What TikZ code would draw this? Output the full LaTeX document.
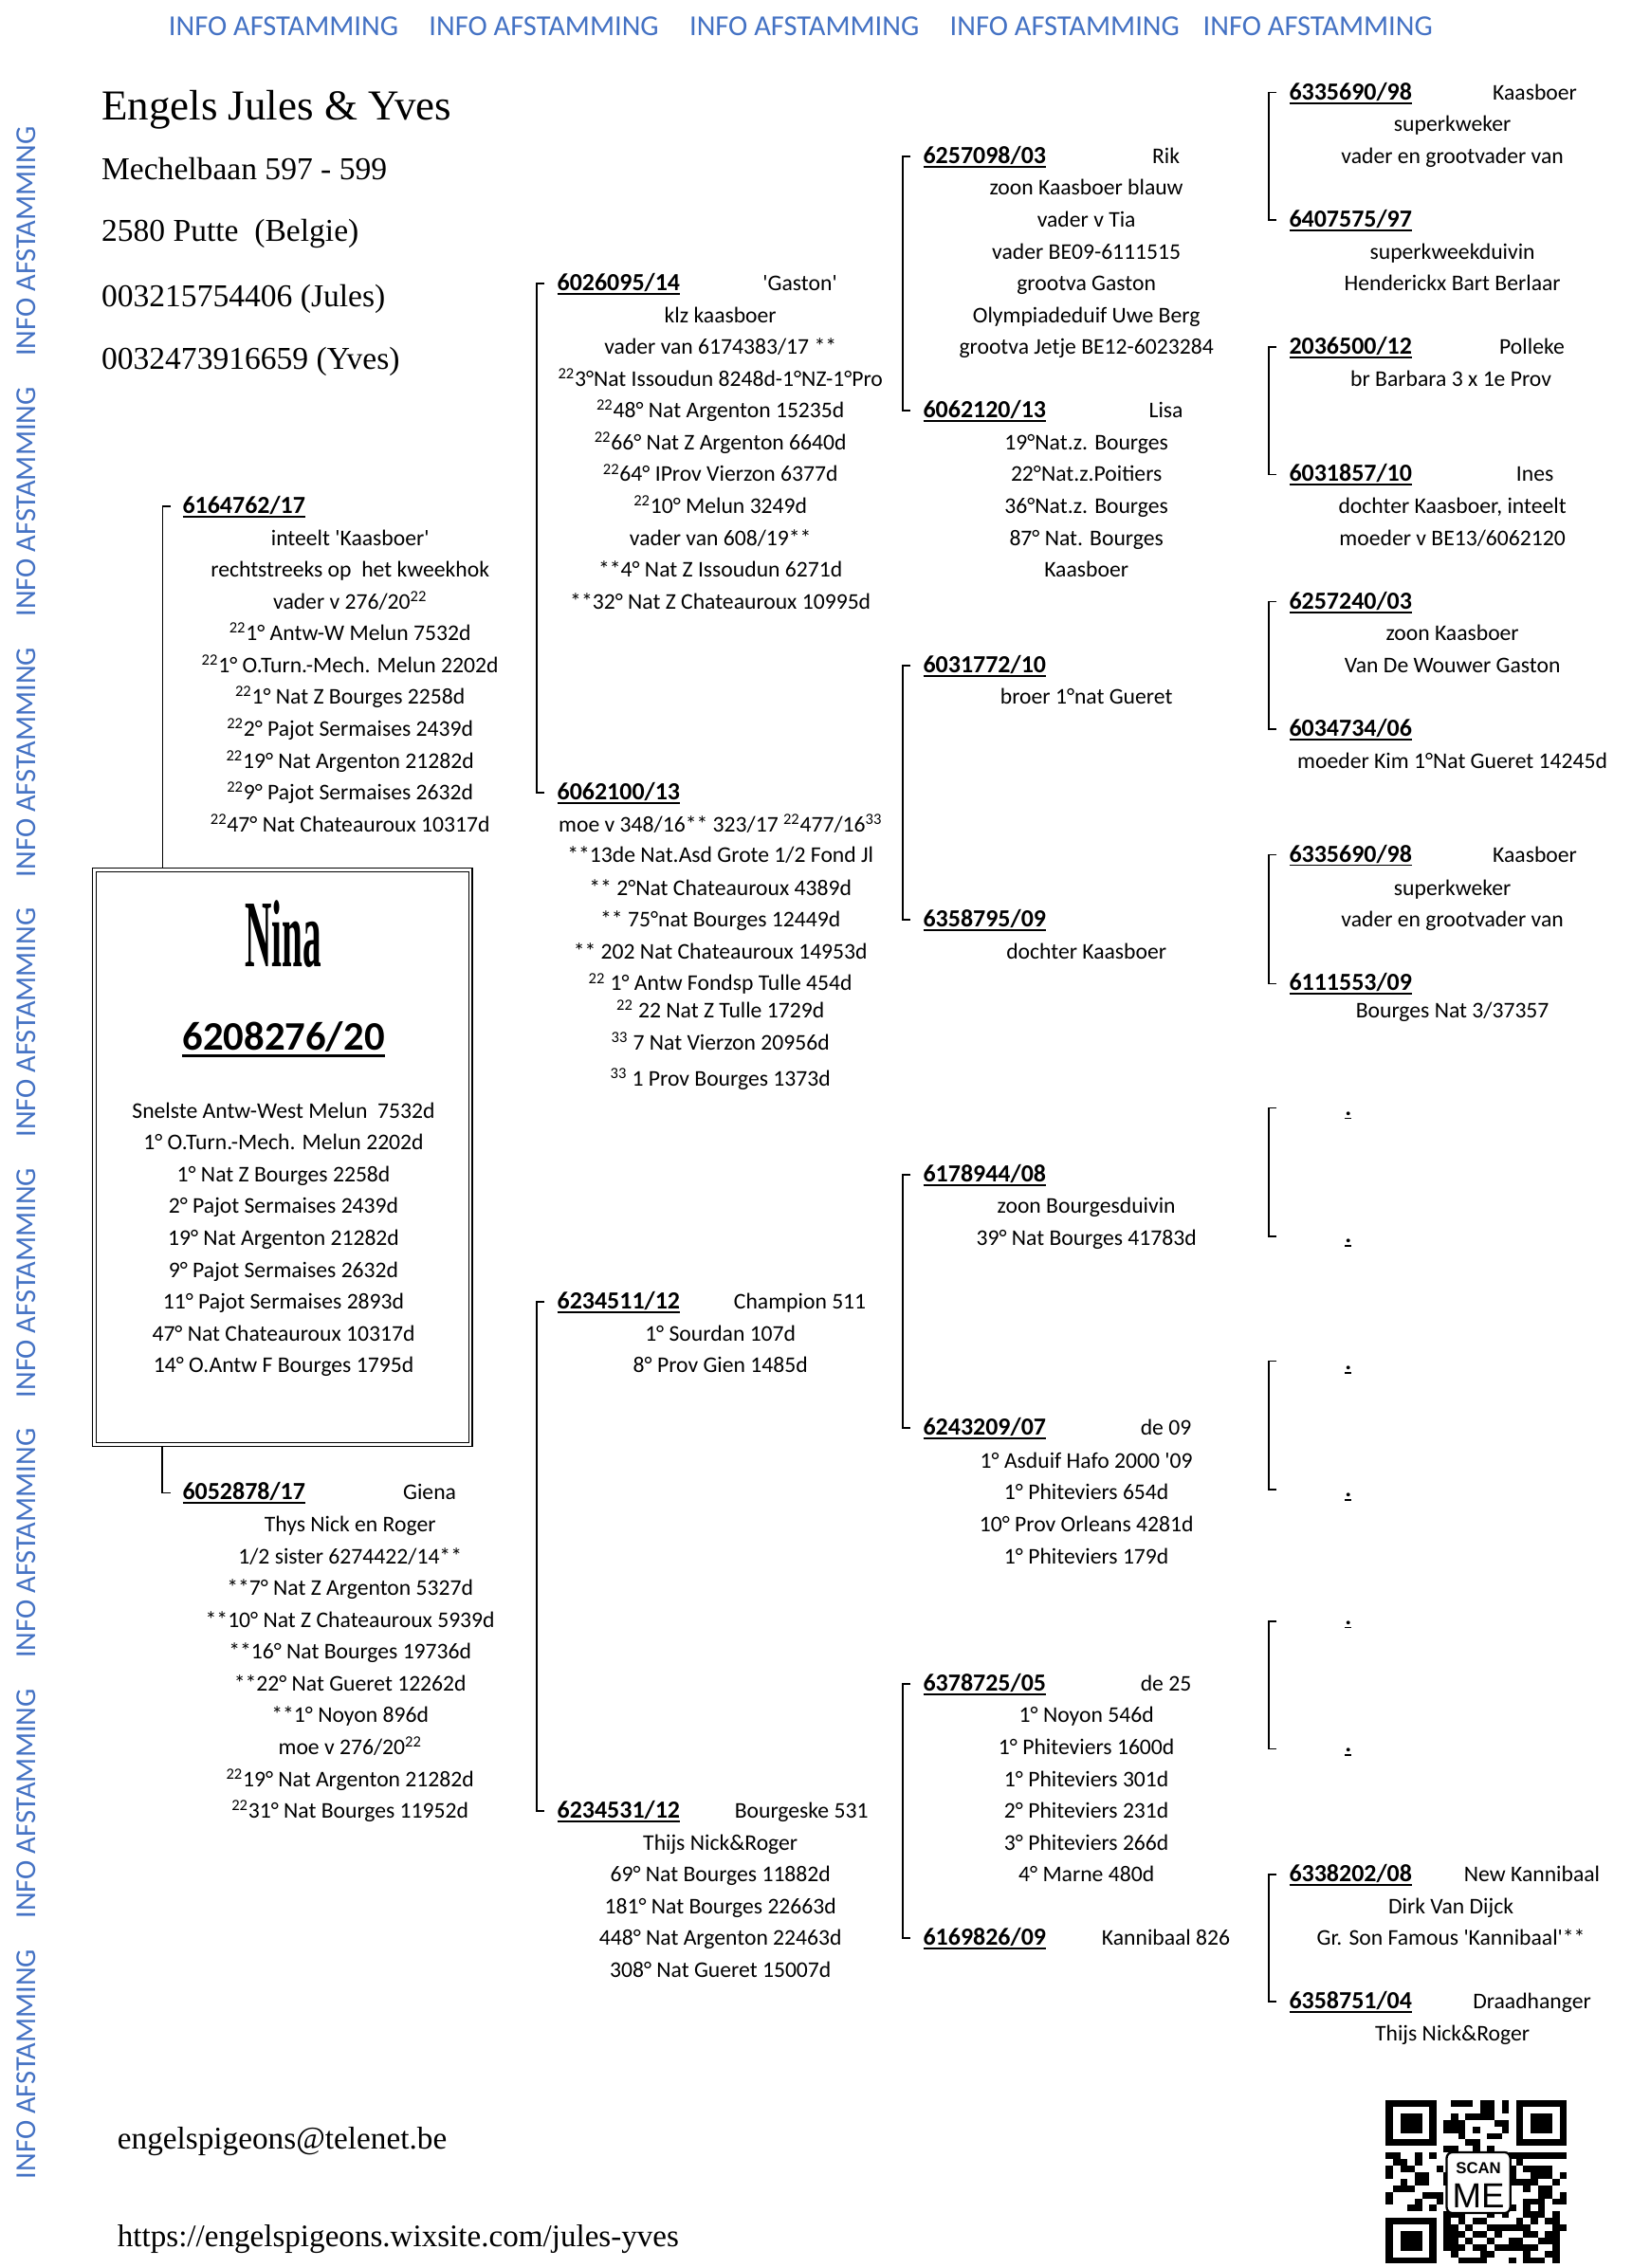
\documentclass[tikz,border=0pt]{standalone}
\usepackage{fontspec}
\usepackage{graphicx}
\setmainfont{Carlito}
\newfontfamily\pedfont{Carlito}
\newfontfamily\headserif{Liberation Serif}
\newfontfamily\qrsans{Liberation Sans}
\definecolor{infoblue}{HTML}{4472C4}
\newcommand\sps[1]{\textsuperscript{#1}}
\newcommand\rg[1]{\setbox0\hbox{\textbf{#1}}\rlap{\rule[-2.8pt]{\wd0}{1.2pt}}\box0}
\newcommand\rgbig[1]{\setbox0\hbox{\textbf{#1}}\rlap{\rule[-4.6pt]{\wd0}{2pt}}\box0}
\newcommand\pedbr[2]{\draw[brk] ([shift={(-8.5pt,5pt)}]#1) -- ([shift={(-14pt,5pt)}]#1) -- ([shift={(-14pt,5pt)}]#2) -- ([shift={(-8.5pt,5pt)}]#2);}
\newcommand\pedblock[4]{\foreach \txt [count=\i from 0] in {#4} {\node[ln] (#1\i) at (#2,{#3+22*\i+5}) {\txt};}}
\tikzset{
 ring/.style={anchor=base west, inner sep=0pt, font=\pedfont\fontsize{17}{20}\selectfont},
 ln/.style={anchor=base, inner sep=0pt, font=\pedfont\fontsize{15.5}{20}\selectfont},
 nm/.style={ln},
 brk/.style={line width=1.1pt, line cap=butt, line join=miter},
 info/.style={inner sep=0pt, text=infoblue, font=\pedfont\fontsize{20}{22}\selectfont},
 hd/.style={anchor=base west, inner sep=0pt, font=\headserif\fontsize{22}{24}\selectfont},
}
\begin{document}
\begin{tikzpicture}[x=1pt,y=-1pt]
\fill[white] (0,0) rectangle (1127.5,1568);
\useasboundingbox (0,0) rectangle (1127.5,1568);

% blue banners
\foreach \xx [count=\i] in {196,376,556,736,911}
  \node[info] (top\i) at (\xx,18) {INFO AFSTAMMING};
\foreach \yy [count=\i] in {167,347,527,707,887,1067,1247,1427}
  \node[info, rotate=90] (side\i) at (18,\yy) {INFO AFSTAMMING};

% header
\node[hd, font=\headserif\fontsize{29.5}{30}\selectfont] (title) at (70,83) {Engels Jules \& Yves};
\node[hd] (addr1) at (70,124) {Mechelbaan 597 - 599};
\node[hd] (addr2) at (70,167) {2580 Putte~ (Belgie)};
\node[hd] (tel1) at (70,212) {003215754406 (Jules)};
\node[hd] (tel2) at (70,255) {0032473916659 (Yves)};
\node[hd, font=\headserif\fontsize{21.8}{24}\selectfont] (mail) at (81,1486) {engelspigeons@telenet.be};
\node[hd, font=\headserif\fontsize{21.7}{24}\selectfont] (url) at (81,1553) {https://engelspigeons.wixsite.com/jules-yves};

% main box
\node[draw, line width=0.9pt, minimum width=262.5pt, minimum height=400pt, inner sep=0pt] (box) at (195.25,800) {};
\draw[line width=0.9pt] ([shift={(3pt,-3pt)}]box.north west) rectangle ([shift={(-3pt,3pt)}]box.south east);
\node[inner sep=0pt, font=\headserif\bfseries\fontsize{66}{66}\selectfont] (nina) at (196,646) {\scalebox{0.39}[1]{Nina}};
\node[inner sep=0pt, anchor=base, font=\pedfont\fontsize{28}{30}\selectfont] (ring0) at (196,726) {\rgbig{6208276/20}};
\pedblock{bx}{196}{768}{{Snelste Antw-West Melun~ 7532d},{1° O.Turn.-Mech. Melun 2202d},{1° Nat Z Bourges 2258d},{2° Pajot Sermaises 2439d},{19° Nat Argenton 21282d},{9° Pajot Sermaises 2632d},{11° Pajot Sermaises 2893d},{47° Nat Chateauroux 10317d},{14° O.Antw F Bourges 1795d}}

% column 1
\node[ring] (r1) at (126,355) {\rg{6164762/17}};
\pedblock{sA}{242}{372}{{inteelt 'Kaasboer'},{rechtstreeks op~ het kweekhok},{vader v 276/20\sps{22}},{\sps{22}1° Antw-W Melun 7532d},{\sps{22}1° O.Turn.-Mech. Melun 2202d},{\sps{22}1° Nat Z Bourges 2258d},{\sps{22}2° Pajot Sermaises 2439d},{\sps{22}19° Nat Argenton 21282d},{\sps{22}9° Pajot Sermaises 2632d},{\sps{22}47° Nat Chateauroux 10317d}}
\node[ring] (r2) at (126,1037) {\rg{6052878/17}};
\node[nm] (n2) at (297,1037) {Giena};
\pedblock{dB}{242}{1054}{{Thys Nick en Roger},{1/2 sister 6274422/14**},{**7° Nat Z Argenton 5327d},{**10° Nat Z Chateauroux 5939d},{**16° Nat Bourges 19736d},{**22° Nat Gueret 12262d},{**1° Noyon 896d},{moe v 276/20\sps{22}},{\sps{22}19° Nat Argenton 21282d},{\sps{22}31° Nat Bourges 11952d}}
\draw[brk] ([shift={(-8pt,5pt)}]r1.base west) -- ([shift={(-13.5pt,5pt)}]r1.base west) -- ([xshift=-13.5pt]r1.base west |- box.north);
\draw[brk] ([xshift=-14pt]r2.base west |- box.south) -- ([shift={(-14pt,5pt)}]r2.base west) -- ([shift={(-8pt,5pt)}]r2.base west);

% column 2
\node[ring] (r3) at (385,201) {\rg{6026095/14}};
\node[nm] (n3) at (553,201) {'Gaston'};
\pedblock{gA}{498}{218}{{klz kaasboer},{vader van 6174383/17 **},{\sps{22}3°Nat Issoudun 8248d-1°NZ-1°Pro},{\sps{22}48° Nat Argenton 15235d},{\sps{22}66° Nat Z Argenton 6640d},{\sps{22}64° IProv Vierzon 6377d},{\sps{22}10° Melun 3249d},{vader van 608/19**},{**4° Nat Z Issoudun 6271d},{**32° Nat Z Chateauroux 10995d}}
\node[ring] (r4) at (385,553) {\rg{6062100/13}};
\node[ln] (gB0) at (498,575) {moe v 348/16** 323/17 \sps{22}477/16\sps{33}};
\node[ln] (gB1) at (498,596) {**13de Nat.Asd Grote 1/2 Fond Jl};
\node[ln] (gB2) at (498,619) {** 2°Nat Chateauroux 4389d};
\node[ln] (gB3) at (498,641) {** 75°nat Bourges 12449d};
\node[ln] (gB4) at (498,663) {** 202 Nat Chateauroux 14953d};
\node[ln] (gB5) at (498,685) {\sps{22} 1° Antw Fondsp Tulle 454d};
\node[ln] (gB6) at (498,704) {\sps{22} 22 Nat Z Tulle 1729d};
\node[ln] (gB7) at (498,726) {\sps{33} 7 Nat Vierzon 20956d};
\node[ln] (gB8) at (498,751) {\sps{33} 1 Prov Bourges 1373d};
\node[ring] (r5) at (385,905) {\rg{6234511/12}};
\node[nm] (n5) at (553,905) {Champion 511};
\pedblock{gC}{498}{922}{{1° Sourdan 107d},{8° Prov Gien 1485d}}
\node[ring] (r6) at (385,1257) {\rg{6234531/12}};
\node[nm] (n6) at (554,1257) {Bourgeske 531};
\pedblock{gD}{498}{1274}{{Thijs Nick\&Roger},{69° Nat Bourges 11882d},{181° Nat Bourges 22663d},{448° Nat Argenton 22463d},{308° Nat Gueret 15007d}}
\pedbr{r3.base west}{r4.base west}
\pedbr{r5.base west}{r6.base west}

% column 3
\node[ring] (r7) at (638,113) {\rg{6257098/03}};
\node[nm] (n7) at (806,113) {Rik};
\pedblock{hA}{751}{130}{{zoon Kaasboer blauw},{vader v Tia},{vader BE09-6111515},{grootva Gaston},{Olympiadeduif Uwe Berg},{grootva Jetje BE12-6023284}}
\node[ring] (r8) at (638,289) {\rg{6062120/13}};
\node[nm] (n8) at (806,289) {Lisa};
\pedblock{hB}{751}{306}{{19°Nat.z. Bourges},{22°Nat.z.Poitiers},{36°Nat.z. Bourges},{87° Nat. Bourges},{Kaasboer}}
\node[ring] (r9) at (638,465) {\rg{6031772/10}};
\pedblock{hC}{751}{482}{{broer 1°nat Gueret}}
\node[ring] (r10) at (638,641) {\rg{6358795/09}};
\pedblock{hD}{751}{658}{{dochter Kaasboer}}
\node[ring] (r11) at (638,817) {\rg{6178944/08}};
\pedblock{hE}{751}{834}{{zoon Bourgesduivin},{39° Nat Bourges 41783d}}
\node[ring] (r12) at (638,992) {\rg{6243209/07}};
\node[nm] (n12) at (806,992) {de 09};
\pedblock{hF}{751}{1010}{{1° Asduif Hafo 2000 '09},{1° Phiteviers 654d},{10° Prov Orleans 4281d},{1° Phiteviers 179d}}
\node[ring] (r13) at (638,1169) {\rg{6378725/05}};
\node[nm] (n13) at (806,1169) {de 25};
\pedblock{hG}{751}{1186}{{1° Noyon 546d},{1° Phiteviers 1600d},{1° Phiteviers 301d},{2° Phiteviers 231d},{3° Phiteviers 266d},{4° Marne 480d}}
\node[ring] (r14) at (638,1345) {\rg{6169826/09}};
\node[nm] (n14) at (806,1345) {Kannibaal 826};
\pedbr{r7.base west}{r8.base west}
\pedbr{r9.base west}{r10.base west}
\pedbr{r11.base west}{r12.base west}
\pedbr{r13.base west}{r14.base west}

% column 4
\node[ring] (r15) at (891,69) {\rg{6335690/98}};
\node[nm] (n15) at (1061,69) {Kaasboer};
\pedblock{kA}{1004}{86}{{superkweker},{vader en grootvader van}}
\node[ring] (r16) at (891,157) {\rg{6407575/97}};
\pedblock{kB}{1004}{174}{{superkweekduivin},{Henderickx Bart Berlaar}}
\node[ring] (r17) at (891,245) {\rg{2036500/12}};
\node[nm] (n17) at (1059,245) {Polleke};
\pedblock{kC}{1003}{262}{{br Barbara 3 x 1e Prov}}
\node[ring] (r18) at (891,333) {\rg{6031857/10}};
\node[nm] (n18) at (1061,333) {Ines};
\pedblock{kD}{1004}{350}{{dochter Kaasboer, inteelt},{moeder v BE13/6062120}}
\node[ring] (r19) at (891,421) {\rg{6257240/03}};
\pedblock{kE}{1004}{438}{{zoon Kaasboer},{Van De Wouwer Gaston}}
\node[ring] (r20) at (891,509) {\rg{6034734/06}};
\pedblock{kF}{1004}{526}{{moeder Kim 1°Nat Gueret 14245d}}
\node[ring] (r21) at (891,596) {\rg{6335690/98}};
\node[nm] (n21) at (1061,596) {Kaasboer};
\pedblock{kG}{1004}{614}{{superkweker},{vader en grootvader van}}
\node[ring] (r22) at (891,685) {\rg{6111553/09}};
\pedblock{kH}{1004}{699}{{Bourges Nat 3/37357}}
\foreach \yy [count=\i] in {771,859,947,1035,1123,1211}
  \node[ring, anchor=base] (dot\i) at (932,\yy) {\rg{.}};
\coordinate (e1a) at (891,771);
\coordinate (e1b) at (891,860);
\coordinate (e2a) at (891,946);
\coordinate (e2b) at (891,1035);
\coordinate (e3a) at (891,1126);
\coordinate (e3b) at (891,1214);
\node[ring] (r23) at (891,1301) {\rg{6338202/08}};
\node[nm] (n23) at (1059,1301) {New Kannibaal};
\pedblock{kI}{1003}{1318}{{Dirk Van Dijck},{Gr. Son Famous 'Kannibaal'**}}
\node[ring] (r24) at (891,1389) {\rg{6358751/04}};
\node[nm] (n24) at (1059,1389) {Draadhanger};
\pedblock{kJ}{1004}{1406}{{Thijs Nick\&Roger}}
\pedbr{r15.base west}{r16.base west}
\pedbr{r17.base west}{r18.base west}
\pedbr{r19.base west}{r20.base west}
\pedbr{r21.base west}{r22.base west}
\pedbr{e1a}{e1b}
\pedbr{e2a}{e2b}
\pedbr{e3a}{e3b}
\pedbr{r23.base west}{r24.base west}

% QR code
\begin{scope}[shift={(958,1452)}]
  \pgfmathsetseed{12}
  \foreach \i in {0,...,24}{
    \foreach \j in {0,...,24}{
      \pgfmathtruncatemacro\qq{rnd<0.5}
      \ifnum\qq=1 \fill (\i*5,\j*4.52) rectangle ++(5,4.52);\fi
    }}
  \fill[white] (0,0) rectangle (40,36.16);
  \fill (0,0) rectangle (35,31.64);
  \fill[white] (5,4.52) rectangle (30,27.12);
  \fill (10,9.04) rectangle (25,22.6);
  \fill[white] (85,0) rectangle (125,36.16);
  \fill (90,0) rectangle (125,31.64);
  \fill[white] (95,4.52) rectangle (120,27.12);
  \fill (100,9.04) rectangle (115,22.6);
  \fill[white] (0,76.84) rectangle (40,113);
  \fill (0,81.36) rectangle (35,113);
  \fill[white] (5,85.88) rectangle (30,108.48);
  \fill (10,90.4) rectangle (25,103.96);
  \filldraw[fill=white, draw=black, line width=1.5pt, rounded corners=4pt] (42,36) rectangle (86,78);
  \node[inner sep=0pt, font=\qrsans\bfseries\fontsize{11}{12}\selectfont] (scan) at (64,47) {SCAN};
  \node[inner sep=0pt, font=\qrsans\fontsize{24}{24}\selectfont] (me) at (64,66) {ME};
\end{scope}
\end{tikzpicture}
\end{document}
